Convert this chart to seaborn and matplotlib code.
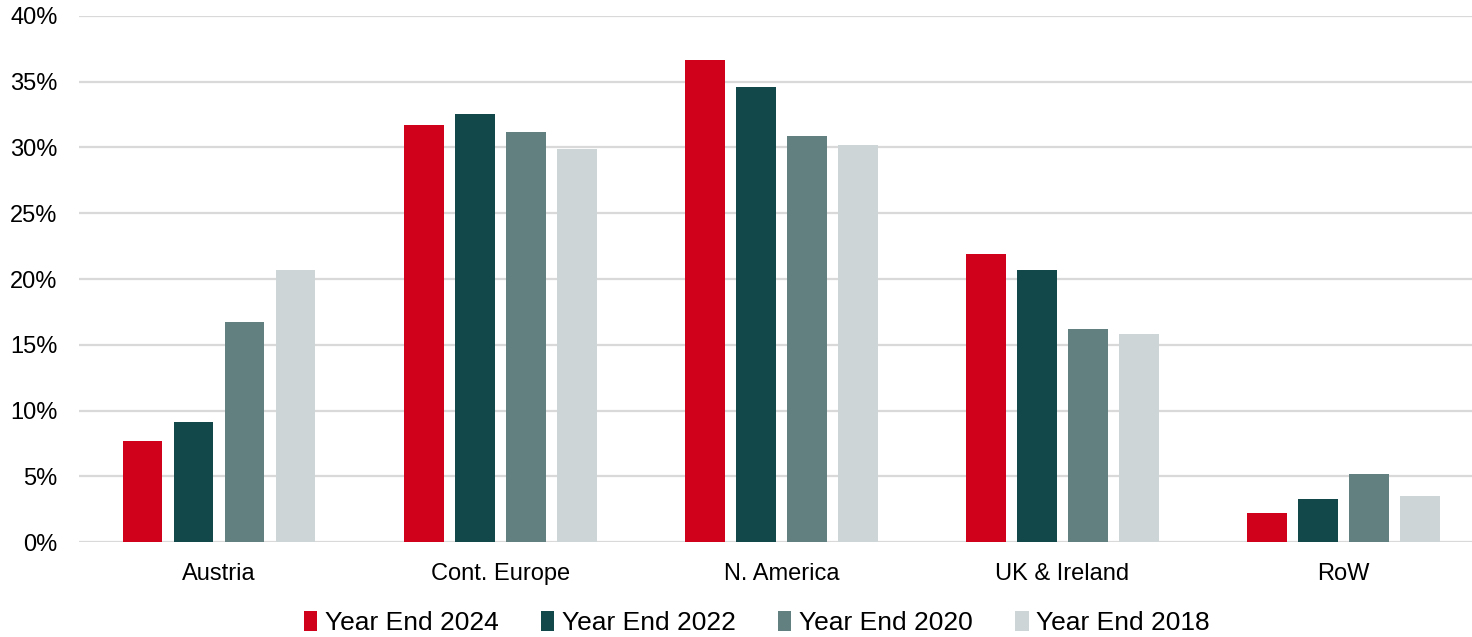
import pandas as pd
import seaborn as sns
import matplotlib.pyplot as plt
from matplotlib.ticker import FuncFormatter

# --- data ---
regions = ['Austria', 'Cont. Europe', 'N. America', 'UK & Ireland', 'RoW']
series = ['Year End 2024', 'Year End 2022', 'Year End 2020', 'Year End 2018']
ye2024 = [7.7, 31.7, 36.6, 21.9, 2.2]
ye2022 = [9.1, 32.5, 34.6, 20.7, 3.3]
ye2020 = [16.7, 31.2, 30.9, 16.2, 5.2]
ye2018 = [20.7, 29.9, 30.2, 15.8, 3.5]
colors = ['#D0021B', '#124849', '#62807F', '#CDD5D6']

rows = []
for name, vals in zip(series, [ye2024, ye2022, ye2020, ye2018]):
    for reg, v in zip(regions, vals):
        rows.append({'region': reg, 'series': name, 'value': v})
df = pd.DataFrame(rows)

sns.set_theme(style='white')
plt.rcParams['font.family'] = ['Liberation Sans', 'DejaVu Sans']

fig = plt.figure(figsize=(14.72, 6.37), dpi=100)
ax = fig.add_axes([78.5 / 1472, 94.7 / 637, 1 - 78.5 / 1472, (542.3 - 15.7) / 637])

sns.barplot(data=df, x='region', y='value', hue='series', hue_order=series,
            palette=colors, saturation=1, width=0.726, gap=0.22, ax=ax, legend=True,
            edgecolor='none', linewidth=0)

ax.set_ylim(0, 40)
ax.set_xlim(-0.5, 4.457)
ax.set_yticks(range(0, 41, 5))
ax.yaxis.set_major_formatter(FuncFormatter(lambda v, p: f'{v:.0f}%'))
ax.grid(axis='y', color='#D9D9D9', linewidth=1.6)
ax.set_axisbelow(True)
for s in ax.spines.values():
    s.set_visible(False)
ax.set_xlabel('')
ax.set_ylabel('')
ax.tick_params(axis='y', labelsize=17, colors='#000000', length=0, pad=15)
ax.tick_params(axis='x', labelsize=17, colors='#000000', length=0, pad=15)

handles, labels = ax.get_legend_handles_labels()
ax.legend(handles, labels, ncol=4, loc='center', bbox_to_anchor=(757 / 1472, 14 / 637),
          bbox_transform=fig.transFigure, frameon=False, fontsize=19, labelcolor='#000000',
          handlelength=0.5, handleheight=0.8, handletextpad=0.3, columnspacing=1.6)

plt.savefig('out.png', dpi=100)
